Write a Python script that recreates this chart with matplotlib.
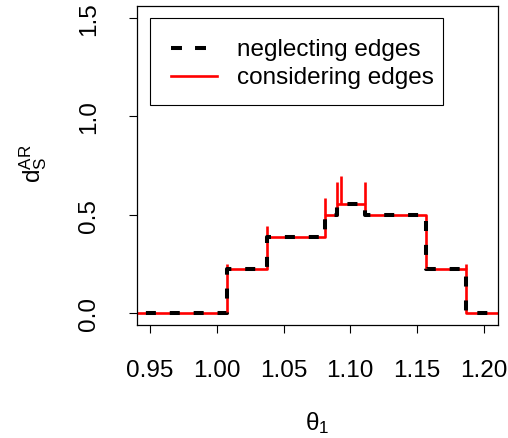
import numpy as np
import matplotlib
matplotlib.use("Agg")
import matplotlib.pyplot as plt
from matplotlib.lines import Line2D
from matplotlib.patches import Rectangle

plt.rcParams['font.family'] = ['Liberation Sans', 'DejaVu Sans']
plt.rcParams['mathtext.fontset'] = 'custom'
plt.rcParams['mathtext.rm'] = 'Liberation Sans'
plt.rcParams['mathtext.it'] = 'Liberation Sans:italic'
plt.rcParams['lines.scale_dashes'] = False

# step function
breaks = [0.929, 1.0079, 1.0376, 1.081, 1.090, 1.111, 1.157, 1.187, 1.22]
levels = [0.0, 0.222, 0.388, 0.5, 0.557, 0.5, 0.222, 0.0]
# spikes of the "considering edges" curve (position, top)
spike_x = [1.0079, 1.0376, 1.081, 1.090, 1.093, 1.111, 1.187]
spike_top = [0.249, 0.445, 0.585, 0.669, 0.696, 0.669, 0.25]

xticks = [0.95, 1.00, 1.05, 1.10, 1.15, 1.20]
yticks = [0.0, 0.5, 1.0, 1.5]
legend_labels = ['neglecting edges', 'considering edges']

fs = 17.5
W, H = 508, 439
fig = plt.figure(figsize=(W / 100, H / 100), dpi=100)
ax = fig.add_axes([0.269, 0.258, 0.711, 0.725])

xs = np.array(breaks)
ys = np.array(levels + [levels[-1]])

# red: step + spikes
ax.step(xs, ys, where='post', color='red', lw=1.9, zorder=2)
lv = np.array(levels)
for sx, st in zip(spike_x, spike_top):
    i = np.searchsorted(xs, sx, side='right') - 1
    base = max(lv[i - 1] if i > 0 else lv[0], lv[min(i, len(lv) - 1)])
    ax.vlines(sx, base, st, color='red', lw=1.9, zorder=2)

# black dashed
ax.step(xs, ys, where='post', color='black', lw=2.9, dashes=(7.2, 10.0),
        dash_capstyle='butt', zorder=3)

ax.set_xlim(0.94, 1.2105)
ax.set_ylim(-0.06, 1.56)
ax.set_xticks(xticks)
ax.set_xticklabels(['%.2f' % t for t in xticks])
ax.set_yticks(yticks)
ax.set_yticklabels(['%.1f' % t for t in yticks], rotation=90, va='center')
ax.tick_params(direction='out', length=5.5, width=0.8, labelsize=fs)
ax.tick_params(axis='x', pad=19)
ax.tick_params(axis='y', pad=21)
for s in ax.spines.values():
    s.set_linewidth(0.9)

ax.set_xlabel(r'$\mathrm{θ}_1$', fontsize=fs)
ax.xaxis.set_label_coords(0.5, -0.305)
ax.xaxis.label.set_va('center')
ax.set_ylabel(r'$\mathrm{d}_\mathrm{S}^\mathrm{AR}$', fontsize=fs)
ax.yaxis.set_label_coords(-0.287, 0.51)
ax.yaxis.label.set_va('center')

# legend drawn by hand, R style (positions in pixels from top-left)
def fx(px):
    return px / W

def fy(py):
    return 1 - py / H

fig.patches.append(Rectangle((fx(150), fy(106)), fx(442.7) - fx(150), fy(19.3) - fy(106),
                             transform=fig.transFigure, fill=True, facecolor='white',
                             edgecolor='black', lw=0.8, zorder=5))
rows = [49.3, 77.3]
styles = [dict(color='black', lw=2.9, dashes=(7.9, 9.4), dash_capstyle='butt'),
          dict(color='red', lw=1.9)]
for ry, st, lab in zip(rows, styles, legend_labels):
    fig.lines.append(Line2D([fx(170.7), fx(216.7)], [fy(ry), fy(ry)],
                            transform=fig.transFigure, zorder=6, **st))
    fig.text(fx(236.7), fy(ry + 6.7), lab, fontsize=fs, va='baseline', ha='left', zorder=6)

fig.savefig('out.png', dpi=100)
